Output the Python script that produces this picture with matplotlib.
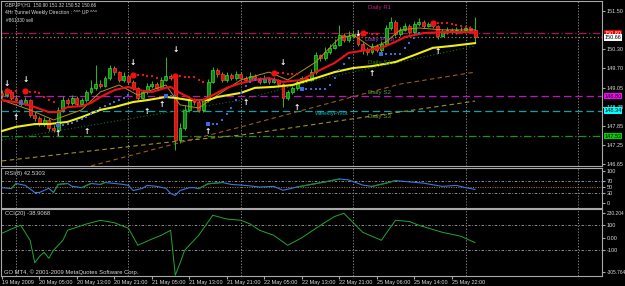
import numpy as np
import matplotlib
matplotlib.use("Agg")
import matplotlib.pyplot as plt
import matplotlib.transforms as mtransforms

plt.rcParams["font.family"] = ["Liberation Sans", "DejaVu Sans"]

# GBPJPY H1, bar 0 = 19 May 21:00
closes = [148.83, 148.93, 148.74, 148.67, 148.55, 148.67, 148.20, 148.10, 147.91, 148.04,
          147.79, 147.72, 148.36, 148.67, 148.58, 148.74, 148.55, 148.67, 148.93, 149.06,
          149.18, 149.12, 149.37, 149.69, 149.56, 149.31, 149.44, 149.25, 149.06, 148.74,
          148.93, 149.12, 149.18, 149.06, 149.31, 149.44, 149.37, 147.40, 147.79, 148.36,
          148.67, 148.61, 148.36, 148.67, 149.25, 149.63, 149.50, 149.31, 149.47, 149.37,
          149.50, 149.37, 149.31, 149.44, 149.37, 149.25, 149.37, 149.25, 149.31, 149.18,
          148.74, 148.93, 149.06, 149.25, 149.37, 149.31, 149.56, 150.10, 150.01, 150.20,
          150.33, 150.42, 150.74, 150.58, 150.71, 150.77, 150.45, 150.26, 150.20, 150.39,
          150.26, 150.45, 150.96, 151.15, 150.77, 150.90, 151.02, 150.83, 151.09, 151.15,
          151.02, 151.09, 151.02, 150.71, 150.83, 150.90, 150.83, 150.90, 150.90, 150.96,
          150.90, 150.66]
highs = [149.00, 149.05, 148.98, 148.82, 148.72, 148.78, 148.70, 148.30, 148.18, 148.12,
         148.10, 147.88, 148.45, 148.80, 148.75, 148.84, 148.80, 148.75, 149.00, 149.30,
         149.80, 149.30, 149.45, 149.78, 149.75, 149.60, 149.55, 149.50, 149.30, 149.10,
         149.00, 149.20, 149.28, 149.25, 149.40, 150.05, 149.50, 149.42, 147.95, 148.50,
         148.80, 148.75, 148.66, 148.75, 149.35, 149.72, 149.70, 149.55, 149.56, 149.52,
         149.60, 149.56, 149.45, 149.55, 149.50, 149.42, 149.46, 149.40, 149.40, 149.35,
         149.22, 149.00, 149.12, 149.32, 149.45, 149.45, 149.65, 150.20, 150.15, 150.35,
         150.45, 150.60, 151.05, 150.80, 150.85, 150.90, 150.82, 150.50, 150.35, 150.48,
         150.45, 150.55, 151.05, 151.30, 151.20, 151.00, 151.12, 151.08, 151.18, 151.28,
         151.20, 151.16, 151.12, 151.06, 150.92, 150.98, 150.95, 150.98, 151.00, 151.05,
         151.02, 151.32]
lows = [148.75, 148.78, 148.68, 148.60, 148.48, 148.50, 148.12, 148.02, 147.85, 147.84,
        147.70, 147.66, 147.70, 148.30, 148.50, 148.52, 148.48, 148.50, 148.62, 148.88,
        149.00, 149.05, 149.08, 149.30, 149.48, 149.25, 149.25, 149.18, 148.98, 148.68,
        148.70, 148.88, 149.05, 149.00, 149.02, 149.28, 149.30, 147.10, 147.30, 147.72,
        148.30, 148.50, 148.28, 148.30, 148.60, 149.20, 149.42, 149.25, 149.26, 149.30,
        149.30, 149.30, 149.24, 149.25, 149.30, 149.18, 149.20, 149.18, 149.20, 149.10,
        148.45, 148.66, 148.88, 149.00, 149.20, 149.25, 149.28, 149.50, 149.92, 149.95,
        150.15, 150.28, 150.38, 150.50, 150.52, 150.65, 150.38, 150.15, 150.10, 150.15,
        150.20, 150.20, 150.40, 150.90, 150.70, 150.72, 150.85, 150.78, 150.80, 151.02,
        150.95, 150.98, 150.95, 150.62, 150.66, 150.78, 150.76, 150.78, 150.82, 150.85,
        150.84, 150.52]
first_open = 148.90

# moving averages (bar, price)
red_ma_bars = [0, 4, 7, 10, 12, 14, 17, 19, 21, 24, 27, 29, 32, 35, 36, 38, 41, 43, 45, 48,
               51, 54, 57, 60, 64, 67, 71, 74, 78, 81, 84, 86, 90, 94, 98, 101]
red_ma = [148.67, 148.58, 148.45, 148.29, 148.29, 148.45, 148.48, 148.58, 148.77, 148.99,
          149.09, 148.99, 148.93, 149.06, 149.09, 148.90, 148.67, 148.67, 148.83, 149.06,
          149.21, 149.31, 149.37, 149.25, 149.31, 149.56, 149.85, 150.17, 150.26, 150.33,
          150.52, 150.67, 150.80, 150.83, 150.83, 150.83]
yellow_ma_bars = [0, 3, 7, 10, 14, 17, 21, 24, 28, 31, 35, 37, 40, 44, 46, 51, 54, 58, 62, 67,
                  71, 75, 79, 84, 88, 92, 96, 101]
yellow_ma = [147.69, 147.82, 147.91, 147.91, 147.98, 148.13, 148.36, 148.45, 148.61, 148.67,
             148.77, 148.74, 148.67, 148.67, 148.77, 148.90, 149.06, 149.09, 149.15, 149.37,
             149.56, 149.69, 149.75, 149.88, 150.10, 150.33, 150.39, 150.48]
fast_ma_bars = [0, 6, 11, 17, 21, 25, 29, 35, 38, 42, 47, 51, 57, 61, 67, 72, 75, 79, 82, 85,
                89, 94, 101]
fast_ma = [148.67, 148.36, 148.04, 148.36, 148.93, 149.15, 148.83, 149.15, 148.52, 148.42,
           148.93, 149.31, 149.56, 149.31, 149.88, 150.64, 150.74, 150.33, 150.52, 150.90,
           150.96, 150.90, 150.90]
green_dot_bars = [0, 51, 67, 101]
green_dot = [147.40, 148.67, 149.31, 150.39]
olive_line_bars = [0, 34, 51, 101]
olive_line = [146.74, 147.31, 147.56, 148.64]
brown_line_bars = [19, 34, 51, 85, 101]
brown_line = [146.58, 147.17, 147.82, 149.18, 149.56]

# trailing stop dots below price (blue) and above price (red)
blue_start_bars = [4, 12, 35, 44, 64, 81]
blue_start = [148.58, 147.88, 148.80, 147.91, 149.01, 150.13]
blue_dot_bars = [13, 14, 15, 16, 17, 18, 19, 20, 21, 22, 23, 24, 25, 26, 27,
                 36, 37,
                 45, 46, 47, 48, 49, 50, 51, 52, 53, 54, 55, 56, 57, 58,
                 65, 66, 67, 68, 69, 70, 71, 72, 73, 74,
                 82, 83, 84, 85, 86, 87, 88, 89]
blue_dots = [147.88, 147.91, 147.94, 148.01, 148.07, 148.13, 148.23, 148.32, 148.42, 148.48,
             148.55, 148.61, 148.67, 148.74, 148.83,
             148.80, 148.80,
             147.91, 147.91, 148.04, 148.23, 148.42, 148.67, 148.90, 149.12, 149.25, 149.31,
             149.31, 149.31, 149.31, 149.31,
             149.01, 149.01, 149.01, 149.01, 149.01, 149.15, 149.37, 149.63, 149.82, 150.01,
             150.13, 150.13, 150.13, 150.13, 150.33, 150.48, 150.64, 150.80]
red_start_bars = [1, 5, 28, 37, 58, 77, 92]
red_start = [148.96, 148.96, 149.47, 149.44, 149.53, 150.80, 151.12]
red_dot_bars = [2, 3, 6, 7, 8, 9, 10, 11, 29, 30, 31, 32, 33, 34, 38, 39, 40, 41, 42, 43,
                59, 60, 61, 62, 63, 78, 79, 80, 93, 94, 95, 96, 97, 98, 99, 100]
red_dots = [148.96, 148.96, 148.93, 148.93, 148.90, 148.77, 148.67, 148.61,
            149.47, 149.47, 149.44, 149.44, 149.37, 149.25,
            149.44, 149.41, 149.41, 149.41, 149.31, 149.25,
            149.53, 149.53, 149.50, 149.50, 149.50,
            150.80, 150.77, 150.77,
            151.12, 151.12, 151.12, 151.09, 151.06, 151.02, 150.99, 150.96]

# fractals
fractal_up_bars = [1, 5, 28, 37, 60, 76]
fractal_up = [149.21, 149.34, 149.88, 150.29, 149.85, 150.80]
fractal_dn_bars = [3, 12, 18, 31, 34, 44, 52, 63, 79, 93]
fractal_dn = [148.13, 147.60, 147.66, 148.32, 148.52, 147.66, 148.61, 148.45, 149.50, 150.20]

# horizontal levels: price, colour, style, label box colour
levels = [(150.80, "#b0105a", (0, (6, 2, 1, 2)), "#e00000"),
          (150.66, "#9a8a6a", (0, (1, 2)), "#ffffff"),
          (148.80, "#c010c0", (0, (6, 3)), "#ff00ff"),
          (148.34, "#10a0a8", (0, (6, 3)), "#00ffff"),
          (147.53, "#209020", (0, (6, 2, 1, 2)), "#00d000")]
level_labels = ["150.80", "150.66", "148.80", "148.34", "147.53"]

pivot_names = ["Daily R1", "Daily Pivot", "Daily S1", "Daily S2", "Daily S3", "WeeklyPivot"]
pivot_bars = [78.2, 77.5, 78.2, 78.2, 78.2, 66.8]
pivot_prices = [151.60, 150.61, 149.85, 148.90, 148.14, 148.23]
pivot_colors = ["#c02090", "#a040c8", "#2a7a2a", "#50a040", "#7a9a30", "#10b0b0"]

# 150.90 sits under the red level box, as in the terminal
price_ticks = [151.50, 150.30, 149.70, 149.05, 148.45, 147.85, 147.25, 146.65]

rsi_bars = [0, 2, 3, 5, 7, 8, 10, 11, 12, 14, 15, 17, 19, 21, 22, 24, 26, 27, 28, 30, 31,
            33, 35, 36, 37, 38, 40, 41, 42, 44, 47, 49, 52, 55, 58, 60, 63, 66, 69, 72, 74,
            77, 79, 82, 84, 87, 90, 94, 97, 99, 101]
rsi = [48, 45, 61, 55, 33, 33, 46, 33, 58, 61, 52, 48, 61, 58, 64, 61, 58, 55, 39, 46, 55,
       52, 46, 30, 24, 39, 48, 48, 45, 60, 64, 58, 55, 50, 52, 40, 50, 58, 66, 75, 72,
       56, 52, 62, 70, 66, 62, 52, 55, 48, 42.53]

cci_bars = [0, 2, 4, 6, 7, 8, 9, 10, 11, 13, 14, 18, 21, 24, 27, 29, 32, 34, 36, 37, 38, 39,
            41, 42, 45, 48, 51, 53, 55, 58, 61, 64, 68, 71, 73, 75, 77, 81, 84, 87, 89, 94,
            98, 101]
cci = [36, 70, 100, -20, -200, -150, -116, -164, -100, -20, 60, 110, 140, 120, 76, -60, -10,
       20, 60, -300, -204, -100, -20, 20, 180, 150, 140, 110, 60, 20, -60, 0, 100, 170, 196,
       120, 44, -20, 140, 130, 100, 44, 12, -38.91]

date_bars = [0, 8, 16, 24, 32, 40, 48, 56, 64, 72, 80, 88, 96]
date_labels = ["19 May 2009", "20 May 05:00", "20 May 13:00", "20 May 21:00", "21 May 05:00",
               "21 May 13:00", "21 May 21:00", "22 May 05:00", "22 May 13:00", "22 May 21:00",
               "25 May 06:00", "25 May 14:00", "25 May 22:00"]
day_bars = [3, 27, 51, 75, 99, 123]

BG = "#000000"
FG = "#d8d8d8"
FS = 4.0

fig = plt.figure(figsize=(6.25, 2.86), dpi=100, facecolor=BG)
ax = fig.add_axes([1 / 625, 1 - 166 / 286, 601 / 625, 165 / 286])
ax_rsi = fig.add_axes([1 / 625, 1 - 208 / 286, 601 / 625, 40 / 286])
ax_cci = fig.add_axes([1 / 625, 1 - 276 / 286, 601 / 625, 67 / 286])

for a in (ax, ax_rsi, ax_cci):
    a.set_facecolor(BG)
    a.set_xlim(-0.21, 128.1)
    for s in a.spines.values():
        s.set_color("#a8a8a8")
        s.set_linewidth(0.8)
    a.yaxis.tick_right()
    a.tick_params(axis="y", colors="#a8a8a8", labelcolor=FG, labelsize=FS, length=2, pad=1.2)
    a.tick_params(axis="x", bottom=False, labelbottom=False)
    for b in day_bars:
        a.axvline(b, color="#9a9a9a", lw=0.6, ls=(0, (1.5, 2)), zorder=1)

# ---- price panel
ax.set_ylim(146.579, 151.817)
ax.set_yticks(price_ticks)
ax.set_yticklabels([f"{p:.2f}" for p in price_ticks])

for (price, col, ls, box), lab in zip(levels, level_labels):
    ax.axhline(price, color=col, lw=0.9, ls=ls, zorder=1)
trans = mtransforms.blended_transform_factory(ax.transAxes, ax.transData)
for (price, col, ls, box), lab in zip(levels, level_labels):
    ax.text(1.004, price, lab, transform=trans, ha="left", va="center", fontsize=FS,
            color="#000000" if box != "#e00000" else "#ffffff",
            bbox=dict(boxstyle="square,pad=0.12", fc=box, ec="none"), zorder=6, clip_on=False)

ax.plot(olive_line_bars, olive_line, color="#a09020", lw=0.8, ls=(0, (4, 3)), zorder=2)
ax.plot(brown_line_bars, brown_line, color="#a05a10", lw=0.8, ls=(0, (4, 3)), zorder=2)
ax.plot(green_dot_bars, green_dot, color="#1a6a1a", lw=0.8, ls=(0, (1, 2)), zorder=2)

bars = np.arange(len(closes))
opens = [first_open] + closes[:-1]
o = np.array(opens)
c = np.array(closes)
bull = c >= o
ax.vlines(bars, lows, highs, color="#20c020", lw=0.7, zorder=3)
body_low = np.minimum(o, c)
body_h = np.maximum(np.abs(c - o), 0.012)
ax.bar(bars, body_h, bottom=body_low, width=0.62,
       color=np.where(bull, "#128a12", "#e01010"),
       edgecolor=np.where(bull, "#30e030", "#ff4030"), linewidth=0.5, zorder=4)

ax.plot(fast_ma_bars, fast_ma, color="#b0901a", lw=0.7, zorder=5)
ax.plot(yellow_ma_bars, yellow_ma, color="#f0f010", lw=1.5, zorder=5)
ax.plot(red_ma_bars, red_ma, color="#f01018", lw=1.5, zorder=5)

ax.scatter(blue_dot_bars, blue_dots, s=3, marker="s", color="#3a6ae0", zorder=6, lw=0)
ax.scatter(blue_start_bars, blue_start, s=12, marker="s", color="#3a6ae0", zorder=6, lw=0)
ax.scatter(red_dot_bars, red_dots, s=4, marker="s", color="#f01010", zorder=6, lw=0)
ax.scatter(red_start_bars, red_start, s=20, marker="o", color="#f01010", zorder=6, lw=0)

for b, p in zip(fractal_up_bars, fractal_up):
    ax.text(b, p, "↓", color="white", fontsize=5.5, ha="center", va="center",
            family="DejaVu Sans", fontweight="bold", zorder=7)
for b, p in zip(fractal_dn_bars, fractal_dn):
    ax.text(b, p, "↑", color="white", fontsize=5.5, ha="center", va="center",
            family="DejaVu Sans", fontweight="bold", zorder=7)

for name, b, p, col in zip(pivot_names, pivot_bars, pivot_prices, pivot_colors):
    ax.text(b, p, name, color=col, fontsize=4.4, ha="left", va="center", zorder=7)

ax.text(0.006, 0.975, "GBPJPY,H1  150.90 151.32 150.52 150.66", transform=ax.transAxes,
        color=FG, fontsize=3.4, va="center", ha="left")
ax.text(0.006, 0.933, "4Hr Tunnel Weekly Direction : ^^^ UP ^^^", transform=ax.transAxes,
        color=FG, fontsize=3.6, va="center", ha="left")
ax.text(0.008, 0.882, "#861330 sell", transform=ax.transAxes,
        color=FG, fontsize=3.4, va="center", ha="left")

# ---- RSI panel
ax_rsi.set_ylim(-15.2, 109.1)
ax_rsi.set_yticks([100, 70, 50, 30, 0])
ax_rsi.set_yticklabels(["100", "70", "50", "30", "0"])
ax_rsi.axhline(70, color="#a0a0a0", lw=0.6, ls=(0, (3, 2, 1, 2)))
ax_rsi.axhline(30, color="#a0a0a0", lw=0.6, ls=(0, (3, 2, 1, 2)))
ax_rsi.axhline(50, color="#c08020", lw=0.7, ls=(0, (1, 1.5)))
ax_rsi.plot(rsi_bars, rsi, color="#3a78e0", lw=0.8, zorder=3)
for i in range(len(rsi) - 1):
    if rsi[i + 1] > rsi[i] and rsi[i + 1] > 55:
        ax_rsi.plot(rsi_bars[i:i + 2], rsi[i:i + 2], color="#1a8a2a", lw=0.8, zorder=4)
ax_rsi.text(0.006, 0.86, "RSI(8) 42.5303", transform=ax_rsi.transAxes,
            color=FG, fontsize=4.2, va="center", ha="left")

# ---- CCI panel
ax_cci.set_ylim(-305.764, 230.204)
ax_cci.set_yticks([196, 100, 0, -100, -276])
ax_cci.set_yticklabels(["230.204", "100", "0.00", "-100", "-305.764"])
for lab in ax_cci.get_yticklabels():
    if lab.get_text() in ("230.204", "-305.764"):
        lab.set_fontsize(3.5)
ax_cci.axhline(100, color="#a0a0a0", lw=0.6, ls=(0, (3, 2, 1, 2)))
ax_cci.axhline(-100, color="#a0a0a0", lw=0.6, ls=(0, (3, 2, 1, 2)))
ax_cci.plot(cci_bars, cci, color="#20a830", lw=0.7, zorder=3)
ax_cci.text(0.006, 0.93, "CCI(20) -38.9068", transform=ax_cci.transAxes,
            color=FG, fontsize=4.2, va="center", ha="left")
ax_cci.text(0.005, 0.06, "GO MT4, \u00a9 2001-2009 MetaQuotes Software Corp.",
            transform=ax_cci.transAxes, color=FG, fontsize=4.2, va="center", ha="left")

ax_cci.tick_params(axis="x", bottom=True, labelbottom=True, colors="#a8a8a8",
                   labelcolor=FG, labelsize=FS, length=2, pad=1)
ax_cci.set_xticks(date_bars)
ax_cci.set_xticklabels(date_labels, ha="left")

fig.savefig("out.png", dpi=100, facecolor=BG)
